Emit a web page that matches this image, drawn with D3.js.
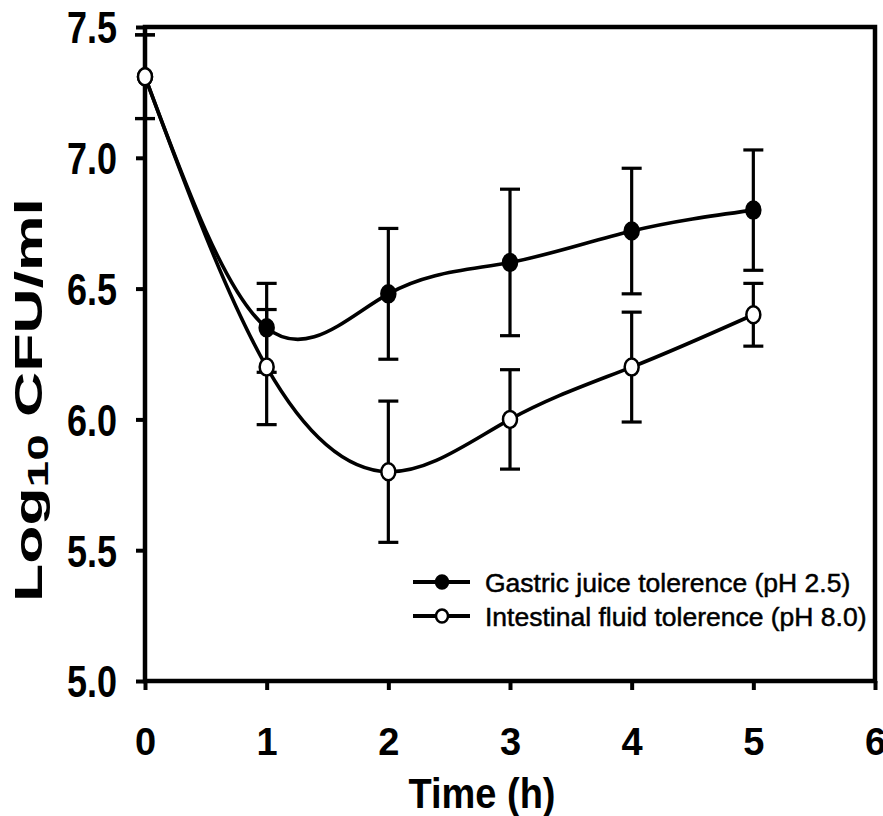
<!DOCTYPE html>
<html>
<head>
<meta charset="utf-8">
<script src="https://cdn.jsdelivr.net/npm/d3@7"></script>
<style>
  body { margin: 0; background: #fff; }
  svg { display: block; font-family: "Liberation Sans", Arial, sans-serif; }
</style>
</head>
<body>
<svg width="883" height="816"></svg>
<script>
// data
var hours = [0, 1, 2, 3, 4, 5],
    gastric = [7.31, 6.35, 6.48, 6.60, 6.72, 6.80],
    gastricErr = [0.16, 0.17, 0.25, 0.28, 0.24, 0.23],
    intestinal = [7.31, 6.20, 5.80, 6.00, 6.20, 6.40],
    intestinalErr = [0.16, 0.22, 0.27, 0.19, 0.21, 0.12],
    xTicks = [0, 1, 2, 3, 4, 5, 6],
    yTicks = [5.0, 5.5, 6.0, 6.5, 7.0, 7.5],
    seriesNames = ["Gastric juice tolerence (pH 2.5)", "Intestinal fluid tolerence (pH 8.0)"];

var svg = d3.select("svg"),
    plotL = 145, plotR = 875, plotT = 27, plotB = 681;

var x = d3.scaleLinear().domain([0, 6]).range([plotL, plotR]),
    y = d3.scaleLinear().domain([5, 7.5]).range([plotB, plotT]);

var series = [
  { name: seriesNames[0], values: gastric, err: gastricErr, fill: "#000" },
  { name: seriesNames[1], values: intestinal, err: intestinalErr, fill: "#fff" }
];
series.forEach(function(s) {
  s.points = hours.map(function(h, i) { return { h: h, v: s.values[i], e: s.err[i] }; });
});

// axes
var yAxis = svg.append("g")
    .attr("transform", "translate(" + plotL + ",0)")
    .call(d3.axisLeft(y).tickValues(yTicks).tickSize(9).tickPadding(19).tickFormat(d3.format(".1f")));
var xAxis = svg.append("g")
    .attr("transform", "translate(0," + plotB + ")")
    .call(d3.axisBottom(x).tickValues(xTicks).tickSize(9).tickPadding(38).tickFormat(d3.format("d")));

[yAxis, xAxis].forEach(function(g) {
  g.select(".domain").remove();
  g.selectAll(".tick line").attr("stroke", "#000").attr("stroke-width", 4);
  g.selectAll(".tick text").attr("fill", "#000").attr("font-weight", "bold").attr("font-family", null);
});
yAxis.selectAll(".tick text").attr("font-size", 44).attr("dy", "0.36em")
    .attr("textLength", 50).attr("lengthAdjust", "spacingAndGlyphs");
xAxis.selectAll(".tick text").attr("font-size", 38);

// frame
svg.append("rect")
    .attr("x", plotL).attr("y", plotT)
    .attr("width", plotR - plotL).attr("height", plotB - plotT)
    .attr("fill", "none").attr("stroke", "#000").attr("stroke-width", 4.5);

// error bars
var cap = 10;
series.forEach(function(s) {
  var g = svg.append("g").attr("stroke", "#000").attr("stroke-width", 3.2);
  s.points.forEach(function(d) {
    var cx = x(d.h), y0 = y(d.v + d.e), y1 = y(d.v - d.e);
    g.append("line").attr("x1", cx).attr("x2", cx).attr("y1", y0).attr("y2", y1);
    g.append("line").attr("x1", cx - cap).attr("x2", cx + cap).attr("y1", y0).attr("y2", y0);
    g.append("line").attr("x1", cx - cap).attr("x2", cx + cap).attr("y1", y1).attr("y2", y1);
  });
});

// smooth curves
var line = d3.line()
    .x(function(d) { return x(d.h); })
    .y(function(d) { return y(d.v); })
    .curve(d3.curveNatural);

series.forEach(function(s) {
  svg.append("path")
      .attr("d", line(s.points))
      .attr("fill", "none").attr("stroke", "#000").attr("stroke-width", 3.6);
});

series.forEach(function(s) {
  svg.append("g").selectAll("ellipse")
    .data(s.points)
    .join("ellipse")
      .attr("cx", function(d) { return x(d.h); })
      .attr("cy", function(d) { return y(d.v); })
      .attr("rx", 7).attr("ry", 8.5)
      .attr("fill", s.fill).attr("stroke", "#000").attr("stroke-width", 2.5);
});

// legend
var legend = svg.append("g").attr("transform", "translate(413,582)");
series.forEach(function(s, i) {
  var row = legend.append("g").attr("transform", "translate(0," + (i * 34) + ")");
  row.append("line").attr("x1", 0).attr("x2", 57).attr("stroke", "#000").attr("stroke-width", 4);
  row.append("ellipse").attr("cx", 29).attr("rx", 6).attr("ry", 6.5)
      .attr("fill", s.fill).attr("stroke", "#000").attr("stroke-width", 2.5);
  row.append("text").attr("x", 72).attr("dy", "0.36em")
      .attr("font-size", 26.5).attr("stroke", "#000").attr("stroke-width", 0.5)
      .text(s.name);
});

// axis titles
svg.append("text")
    .attr("x", 482).attr("y", 808)
    .attr("text-anchor", "middle")
    .attr("font-size", 42).attr("font-weight", "bold")
    .attr("textLength", 147).attr("lengthAdjust", "spacingAndGlyphs")
    .text("Time (h)");

var ylab = svg.append("text")
    .attr("transform", "translate(42,602) rotate(-90)")
    .attr("font-size", 38).attr("font-weight", "bold")
    .attr("textLength", 404).attr("lengthAdjust", "spacingAndGlyphs");
ylab.append("tspan").text("Log");
ylab.append("tspan").attr("font-size", 29).attr("dy", 6).text("10");
ylab.append("tspan").attr("dy", -6).text(" CFU/ml");
</script>
</body>
</html>
